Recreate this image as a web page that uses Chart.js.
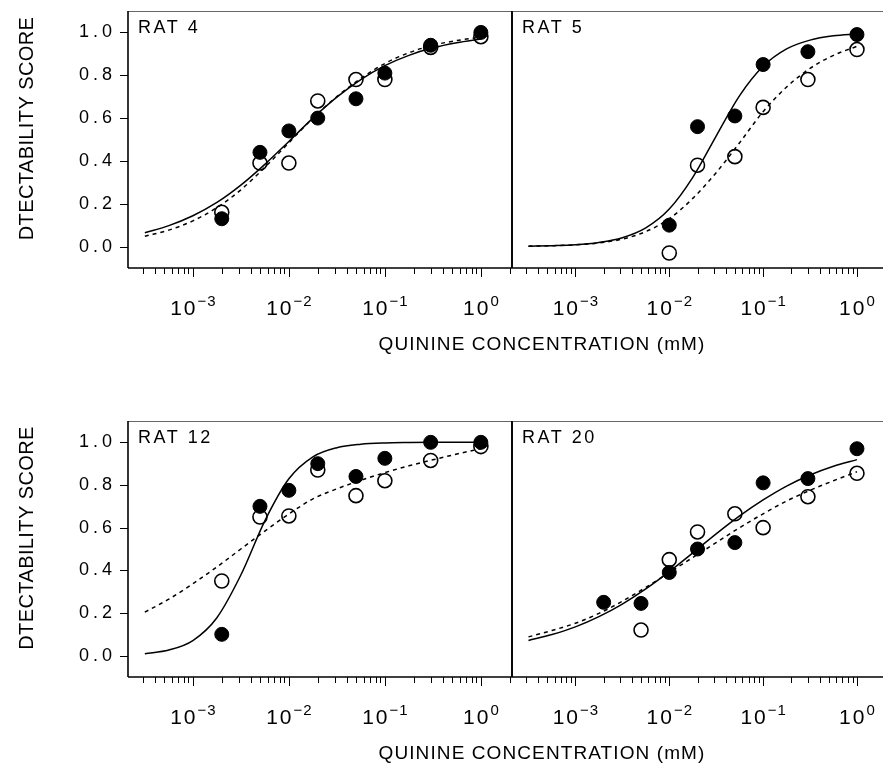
<!DOCTYPE html>
<html>
<head>
<meta charset="utf-8">
<title>Quinine detectability</title>
<script src="https://cdn.jsdelivr.net/npm/chart.js@4.4.1/dist/chart.umd.min.js"></script>
<style>
  html, body { margin: 0; padding: 0; background: #fff; width: 883px; height: 767px; overflow: hidden; }
  canvas.panel { position: absolute; left: 0; top: 0; }
</style>
</head>
<body>
<canvas id="rat4" class="panel" width="896" height="767"></canvas>
<canvas id="rat5" class="panel" width="896" height="767"></canvas>
<canvas id="rat12" class="panel" width="896" height="767"></canvas>
<canvas id="rat20" class="panel" width="896" height="767"></canvas>
<script>
// quinine concentrations (mM) tested
const CONC = [0.002, 0.005, 0.01, 0.02, 0.05, 0.1, 0.3, 1.0];
const CONC_RAT5 = [0.01, 0.02, 0.05, 0.1, 0.3, 1.0];

// concentrations where the fitted curves are sampled (quarter decades)
const FIT_CONC = [0.000316, 0.000562, 0.001, 0.00178, 0.00316, 0.00562, 0.01, 0.0178,
                  0.0316, 0.0562, 0.1, 0.178, 0.316, 0.562, 1.0];

// filled circles / open circles (detectability score)
const RAT4_FILLED = [0.13, 0.44, 0.54, 0.60, 0.69, 0.81, 0.94, 1.00];
const RAT4_OPEN   = [0.16, 0.39, 0.39, 0.68, 0.78, 0.78, 0.93, 0.98];
const RAT5_FILLED = [0.10, 0.56, 0.61, 0.85, 0.91, 0.99];
const RAT5_OPEN   = [-0.03, 0.38, 0.42, 0.65, 0.78, 0.92];
const RAT12_FILLED = [0.10, 0.70, 0.775, 0.90, 0.84, 0.925, 1.00, 1.00];
const RAT12_OPEN   = [0.35, 0.65, 0.655, 0.87, 0.75, 0.82, 0.915, 0.98];
const RAT20_FILLED = [0.25, 0.245, 0.39, 0.50, 0.53, 0.81, 0.83, 0.97];
const RAT20_OPEN   = [null, 0.12, 0.45, 0.58, 0.665, 0.60, 0.745, 0.855];

// fitted curves (solid = filled, dashed = open)
const RAT4_SOLID   = [0.065, 0.098, 0.144, 0.206, 0.287, 0.384, 0.491, 0.60, 0.698, 0.78, 0.845, 0.893, 0.928, 0.952, 0.969];
const RAT4_DASHED  = [0.048, 0.077, 0.12, 0.182, 0.265, 0.37, 0.485, 0.60, 0.70, 0.785, 0.855, 0.905, 0.94, 0.962, 0.978];
const RAT5_SOLID   = [0.002, 0.004, 0.008, 0.019, 0.041, 0.087, 0.175, 0.323, 0.516, 0.705, 0.842, 0.923, 0.964, 0.984, 0.993];
const RAT5_DASHED  = [0.002, 0.004, 0.008, 0.017, 0.035, 0.07, 0.13, 0.225, 0.345, 0.485, 0.63, 0.745, 0.832, 0.893, 0.935];
const RAT12_SOLID  = [0.0095, 0.0265, 0.071, 0.178, 0.378, 0.632, 0.829, 0.932, 0.975, 0.991, 0.997, 0.999, 1.0, 1.0, 1.0];
const RAT12_DASHED = [0.204, 0.265, 0.337, 0.416, 0.50, 0.584, 0.664, 0.735, 0.782, 0.822, 0.858, 0.89, 0.918, 0.945, 0.97];
const RAT20_SOLID  = [0.071, 0.099, 0.135, 0.183, 0.242, 0.313, 0.394, 0.482, 0.571, 0.655, 0.73, 0.795, 0.847, 0.888, 0.919];
const RAT20_DASHED = [0.088, 0.118, 0.152, 0.198, 0.255, 0.32, 0.39, 0.46, 0.53, 0.60, 0.665, 0.725, 0.775, 0.82, 0.862];

// axes
const X_MIN = 2.11e-4, X_MAX = 2.11;
const Y_MIN = -0.1, Y_MAX = 1.1;
const Y_TICKS = [0.0, 0.2, 0.4, 0.6, 0.8, 1.0];
const Y_TICK_LABELS = ['0.0', '0.2', '0.4', '0.6', '0.8', '1.0'];
const X_TICKS = [0.001, 0.01, 0.1, 1];
const X_TICK_EXP = ['\u22123', '\u22122', '\u22121', '0'];
const Y_TITLE = 'DTECTABILITY SCORE';
const X_TITLE = 'QUININE CONCENTRATION (mM)';

const W = 896, H = 767;
const FONT = '"Liberation Sans", Arial, Helvetica, sans-serif';

function pairs(xs, ys) {
  const out = [];
  xs.forEach((x, i) => { if (ys[i] !== null) out.push({ x: x, y: ys[i] }); });
  return out;
}

function seg(ctx, x1, y1, x2, y2) {
  ctx.beginPath();
  ctx.moveTo(x1, y1);
  ctx.lineTo(x2, y2);
  ctx.stroke();
}

// frame, ticks and all the text of a panel
const panelDecor = {
  id: 'panelDecor',
  beforeDatasetsDraw(chart, args, opts) {
    const { ctx, chartArea: a } = chart;
    const x = chart.scales.x, y = chart.scales.y;
    ctx.save();
    ctx.fillStyle = '#000';

    // top edge is drawn lighter
    ctx.strokeStyle = '#666';
    ctx.lineWidth = 1;
    seg(ctx, a.left, a.top + 0.5, a.right, a.top + 0.5);

    ctx.strokeStyle = '#000';
    ctx.lineWidth = 1.6;
    seg(ctx, a.left, a.top, a.left, a.bottom);
    seg(ctx, a.right, a.top, a.right, a.bottom);
    seg(ctx, a.left, a.bottom, a.right, a.bottom);

    // log ticks: decades long, 2..9 short
    ctx.lineWidth = 1;
    for (let e = -4; e <= 0; e++) {
      for (let m = 1; m < 10; m++) {
        const v = m * Math.pow(10, e);
        if (v < X_MIN || v > X_MAX) continue;
        const px = Math.round(x.getPixelForValue(v)) + 0.5;
        seg(ctx, px, a.bottom, px, a.bottom + (m === 1 ? 9 : 6));
      }
    }

    // 10^n labels
    const baseFont = '21px ' + FONT, expFont = '15px ' + FONT;
    ctx.textBaseline = 'alphabetic';
    ctx.textAlign = 'left';
    X_TICKS.forEach((v, i) => {
      const px = x.getPixelForValue(v);
      ctx.font = baseFont;
      ctx.letterSpacing = '2px';
      const wBase = ctx.measureText('10').width;
      ctx.font = expFont;
      ctx.letterSpacing = '1px';
      const wExp = ctx.measureText(X_TICK_EXP[i]).width;
      const start = px - (wBase + wExp - 1) / 2;
      ctx.font = baseFont;
      ctx.letterSpacing = '2px';
      ctx.fillText('10', start, a.bottom + 47);
      ctx.font = expFont;
      ctx.letterSpacing = '1px';
      ctx.fillText(X_TICK_EXP[i], start + wBase, a.bottom + 38);
    });

    if (opts.yAxis) {
      ctx.lineWidth = 1;
      ctx.font = '18px ' + FONT;
      ctx.letterSpacing = '4px';
      ctx.textAlign = 'right';
      ctx.textBaseline = 'middle';
      Y_TICKS.forEach((v, i) => {
        const py = Math.round(y.getPixelForValue(v)) + 0.5;
        seg(ctx, a.left - 8, py, a.left, py);
        ctx.fillText(Y_TICK_LABELS[i], a.left - 16 + 4, py);
      });

      ctx.save();
      ctx.translate(27, y.getPixelForValue(0.5) - 11);
      ctx.rotate(-Math.PI / 2);
      ctx.font = '20px ' + FONT;
      ctx.letterSpacing = '0.4px';
      ctx.textAlign = 'center';
      ctx.textBaseline = 'middle';
      ctx.fillText(Y_TITLE, 0, 0);
      ctx.restore();
    } else {
      ctx.font = '19px ' + FONT;
      ctx.letterSpacing = '1.1px';
      ctx.textAlign = 'center';
      ctx.textBaseline = 'alphabetic';
      ctx.fillText(X_TITLE, a.left + 30, a.bottom + 82);
    }

    ctx.font = '18px ' + FONT;
    ctx.letterSpacing = '2.5px';
    ctx.textAlign = 'left';
    ctx.textBaseline = 'alphabetic';
    ctx.fillText(opts.name, a.left + 10, a.top + 22);

    ctx.restore();
  }
};

function makePanel(id, p) {
  new Chart(document.getElementById(id), {
    type: 'scatter',
    data: {
      datasets: [
        { data: pairs(p.conc, p.filled), pointRadius: 7, pointBackgroundColor: '#000',
          pointBorderColor: '#000', pointBorderWidth: 1, showLine: false },
        { data: pairs(FIT_CONC, p.solid), showLine: true, pointRadius: 0, borderColor: '#000',
          borderWidth: 1.5, cubicInterpolationMode: 'monotone' },
        { data: pairs(FIT_CONC, p.dashed), showLine: true, pointRadius: 0, borderColor: '#000',
          borderWidth: 1.5, borderDash: [4, 4], cubicInterpolationMode: 'monotone' },
        { data: pairs(p.conc, p.open), pointRadius: 7, pointBackgroundColor: '#fff',
          pointBorderColor: '#000', pointBorderWidth: 1.6, showLine: false }
      ]
    },
    options: {
      responsive: false,
      animation: false,
      events: [],
      layout: { padding: { left: p.left, right: W - p.left - 384, top: p.top, bottom: H - p.bottom } },
      scales: {
        x: { type: 'logarithmic', min: X_MIN, max: X_MAX, bounds: 'data', display: false },
        y: { type: 'linear', min: Y_MIN, max: Y_MAX, display: false }
      },
      plugins: {
        legend: { display: false },
        tooltip: { enabled: false },
        panelDecor: { name: p.name, yAxis: p.yAxis }
      }
    },
    plugins: [panelDecor]
  });
}

makePanel('rat4', { name: 'RAT 4', conc: CONC, filled: RAT4_FILLED, open: RAT4_OPEN,
  solid: RAT4_SOLID, dashed: RAT4_DASHED, left: 128, top: 11, bottom: 268, yAxis: true });
makePanel('rat5', { name: 'RAT 5', conc: CONC_RAT5, filled: RAT5_FILLED, open: RAT5_OPEN,
  solid: RAT5_SOLID, dashed: RAT5_DASHED, left: 512, top: 11, bottom: 268, yAxis: false });
makePanel('rat12', { name: 'RAT 12', conc: CONC, filled: RAT12_FILLED, open: RAT12_OPEN,
  solid: RAT12_SOLID, dashed: RAT12_DASHED, left: 128, top: 421, bottom: 677, yAxis: true });
makePanel('rat20', { name: 'RAT 20', conc: CONC, filled: RAT20_FILLED, open: RAT20_OPEN,
  solid: RAT20_SOLID, dashed: RAT20_DASHED, left: 512, top: 421, bottom: 677, yAxis: false });
</script>
</body>
</html>
